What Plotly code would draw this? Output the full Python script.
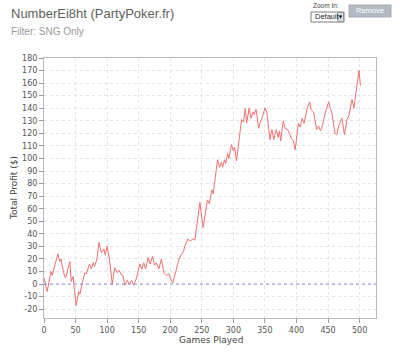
import plotly.graph_objects as go

games = [0, 3, 5, 8, 11, 13, 16, 19, 22, 25, 27, 31, 34, 37, 41, 43, 46, 48, 51, 55,
         57, 61, 65, 67, 72, 75, 78, 80, 84, 87, 91, 95, 97, 100, 103, 106, 108, 112, 116, 119,
         123, 125, 128, 132, 135, 139, 142, 146, 149, 152, 155, 158, 161, 165, 168, 172, 175, 178, 182, 186,
         190, 194, 198, 200, 204, 208, 211, 214, 218, 221, 223, 228, 231, 236, 239, 243, 247, 252, 256, 259,
         262, 266, 268, 272, 275, 278, 281, 283, 286, 288, 291, 293, 297, 300, 302, 305, 309, 313, 316, 319,
         321, 325, 328, 331, 333, 336, 340, 342, 346, 350, 353, 358, 361, 364, 368, 371, 373, 375, 379, 382,
         386, 389, 392, 395, 398, 403, 406, 409, 412, 417, 421, 423, 427, 432, 435, 438, 441, 446, 451, 454,
         456, 461, 464, 467, 472, 476, 480, 483, 488, 491, 496, 499, 501, 502]
profit = [5, -2, -6, 2, 10, 7, 12, 18, 24, 18, 20, 9, 5, 10, 18, 2, 6, -4, -17, -6,
          -8, 2, 9, 8, 16, 12, 17, 14, 20, 33, 25, 28, 23, 30, 22, 10, 0, 13, 9, 11,
          7, 7, -1, 3, 0, 3, -1, 4, 10, 16, 12, 17, 12, 21, 16, 22, 15, 17, 12, 20,
          9, 7, 8, 5, 1, 9, 16, 20, 24, 26, 30, 36, 34, 36, 35, 50, 65, 45, 58, 67,
          64, 75, 72, 86, 99, 93, 97, 93, 99, 96, 104, 100, 111, 106, 109, 98, 115, 131, 129, 140,
          128, 140, 132, 137, 135, 139, 124, 128, 133, 140, 137, 115, 123, 115, 123, 117, 122, 114, 130, 124,
          123, 119, 116, 114, 107, 128, 125, 132, 128, 140, 145, 139, 137, 123, 126, 122, 126, 137, 145, 139,
          137, 120, 119, 126, 132, 119, 131, 134, 147, 140, 161, 170, 160, 158]

x_ticks = [0, 50, 100, 150, 200, 250, 300, 350, 400, 450, 500]
y_ticks = list(range(-20, 181, 10))

title_text = "NumberEi8ht (PartyPoker.fr)"
subtitle_text = "Filter: SNG Only"
x_title = "Games Played"
y_title = "Total Profit ($)"

W, H = 400, 354
L, R, T, B = 44, 24, 58, 36
PW, PH = W - L - R, H - T - B

def px(x):
    return (x - L) / PW

def py(y):
    return (H - B - y) / PH

FONT = "DejaVu Sans"
ARIAL = "Liberation Sans"

fig = go.Figure()
fig.add_trace(go.Scatter(x=games, y=profit, mode="lines",
                         line=dict(color="#ee7070", width=1), hoverinfo="skip",
                         showlegend=False))

shapes = [
    dict(type="line", xref="paper", yref="y", x0=0, x1=1, y0=0, y1=0,
         line=dict(color="#8a8ae6", width=1, dash="dot"), layer="above"),
    # dropdown box
    dict(type="rect", xref="paper", yref="paper", x0=px(311), x1=px(344), y0=py(22), y1=py(12),
         line=dict(color="#7a7a7a", width=1), fillcolor="white"),
    dict(type="rect", xref="paper", yref="paper", x0=px(337.5), x1=px(343.5), y0=py(21.5), y1=py(12.5),
         line=dict(color="#999", width=1), fillcolor="#d8d8d8"),
    dict(type="path", xref="paper", yref="paper",
         path=f"M {px(338.6)} {py(15.5)} L {px(342.4)} {py(15.5)} L {px(340.5)} {py(18.5)} Z",
         line=dict(color="black", width=0), fillcolor="black"),
    # Remove button
    dict(type="rect", xref="paper", yref="paper", x0=px(349), x1=px(391), y0=py(17), y1=py(5),
         line=dict(color="#a5adb8", width=1), fillcolor="#b3bac4"),
]

annotations = [
    dict(text=title_text, xref="paper", yref="paper", x=px(9), y=py(14), xanchor="left",
         yanchor="middle", showarrow=False, font=dict(family=ARIAL, size=13, color="#606060")),
    dict(text=subtitle_text, xref="paper", yref="paper", x=px(9), y=py(32), xanchor="left",
         yanchor="middle", showarrow=False, font=dict(family=ARIAL, size=10, color="#999")),
    dict(text="Zoom In:", xref="paper", yref="paper", x=px(311), y=py(5), xanchor="left",
         yanchor="middle", showarrow=False, font=dict(family=ARIAL, size=6.5, color="#444")),
    dict(text="Default", xref="paper", yref="paper", x=px(312.5), y=py(17), xanchor="left",
         yanchor="middle", showarrow=False, font=dict(family=ARIAL, size=7.5, color="#222")),
    dict(text="Remove", xref="paper", yref="paper", x=px(370), y=py(11), xanchor="center",
         yanchor="middle", showarrow=False, font=dict(family=ARIAL, size=7.5, color="white")),
    dict(text=y_title, xref="paper", yref="paper", x=px(14), y=py(188), xanchor="center",
         yanchor="middle", textangle=-90, showarrow=False,
         font=dict(family=FONT, size=9, color="#444")),
    dict(text=x_title, xref="paper", yref="paper", x=px(211), y=py(340), xanchor="center",
         yanchor="middle", showarrow=False, font=dict(family=FONT, size=9, color="#444")),
]

fig.update_layout(
    width=W, height=H,
    margin=dict(l=L, r=R, t=T, b=B, pad=0),
    paper_bgcolor="white", plot_bgcolor="white",
    font=dict(family=FONT, size=8, color="#555"),
    shapes=shapes, annotations=annotations,
    xaxis=dict(range=[0, 526], tickvals=x_ticks, ticktext=[str(v) for v in x_ticks],
               showgrid=True, gridcolor="#e4e4e4", griddash="dot", gridwidth=1,
               zeroline=False, showline=True, linecolor="#b8b8b8", linewidth=1, mirror=True,
               ticks="outside", ticklen=4, tickcolor="#999", tickfont=dict(size=8, color="#555")),
    yaxis=dict(range=[-27, 180], tickvals=y_ticks, ticktext=[str(v) for v in y_ticks],
               showgrid=True, gridcolor="#e4e4e4", griddash="dot", gridwidth=1,
               zeroline=False, showline=True, linecolor="#b8b8b8", linewidth=1, mirror=True,
               ticks="outside", ticklen=4, tickcolor="#999", tickfont=dict(size=8, color="#555")),
)

fig.write_html("out.html")
